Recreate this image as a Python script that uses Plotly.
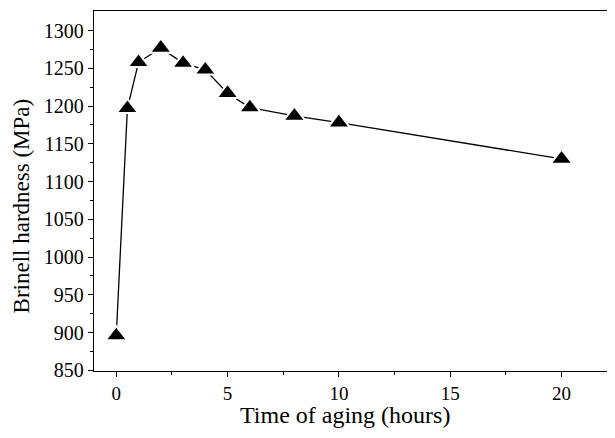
import plotly.graph_objects as go

time_hours = [0, 0.5, 1, 2, 3, 4, 5, 6, 8, 10, 20]
hardness_mpa = [896, 1197, 1258, 1277, 1257, 1248, 1217, 1198, 1187, 1178, 1130]

x_ticks = [0, 5, 10, 15, 20]
y_ticks = [850, 900, 950, 1000, 1050, 1100, 1150, 1200, 1250, 1300]

x_title = "Time of aging (hours)"
y_title = "Brinell hardness (MPa)"

font_family = "Liberation Serif, DejaVu Serif, serif"

fig = go.Figure()
fig.add_trace(go.Scatter(
    x=time_hours, y=hardness_mpa,
    mode="lines+markers",
    line=dict(color="black", width=1.3),
    marker=dict(symbol="triangle-up", size=19, color="black",
                line=dict(color="white", width=2)),
    showlegend=False,
    cliponaxis=False,
))

# page body has an 8px margin, so the figure is shifted by 8px
fig.update_layout(
    width=607, height=430,
    margin=dict(l=86, r=0, t=3, b=67),
    paper_bgcolor="white", plot_bgcolor="white",
    font=dict(family=font_family, size=20, color="black"),
    annotations=[
        dict(text=x_title, xref="paper", yref="paper", x=0.4827, y=-0.081,
             xanchor="center", yanchor="top", showarrow=False,
             font=dict(size=24)),
        dict(text=y_title, xref="paper", yref="paper", x=-0.1395, y=0.458,
             xanchor="center", yanchor="middle", showarrow=False, textangle=-90,
             font=dict(size=23)),
    ],
)
fig.update_xaxes(
    range=[-1, 22.4], automargin=False,
    tickvals=x_ticks, ticktext=[str(v) for v in x_ticks],
    tickfont=dict(size=19),
    ticks="outside", ticklen=5, tickwidth=1, tickcolor="black",
    minor=dict(tickvals=[2.5, 7.5, 12.5, 17.5, 22.5], ticks="outside", ticklen=3, tickcolor="black"),
    showline=True, linecolor="black", linewidth=1.3, mirror=True,
    showgrid=False, zeroline=False,
)
fig.update_yaxes(
    range=[849, 1326], automargin=False,
    tickvals=y_ticks, ticktext=[str(v) for v in y_ticks],
    ticks="outside", ticklen=5, tickwidth=1, tickcolor="black",
    minor=dict(tickvals=[875 + 50 * i for i in range(9)], ticks="outside", ticklen=3, tickcolor="black"),
    showline=True, linecolor="black", linewidth=1.3,
    showgrid=False, zeroline=False,
)

fig.write_html("out.html")
